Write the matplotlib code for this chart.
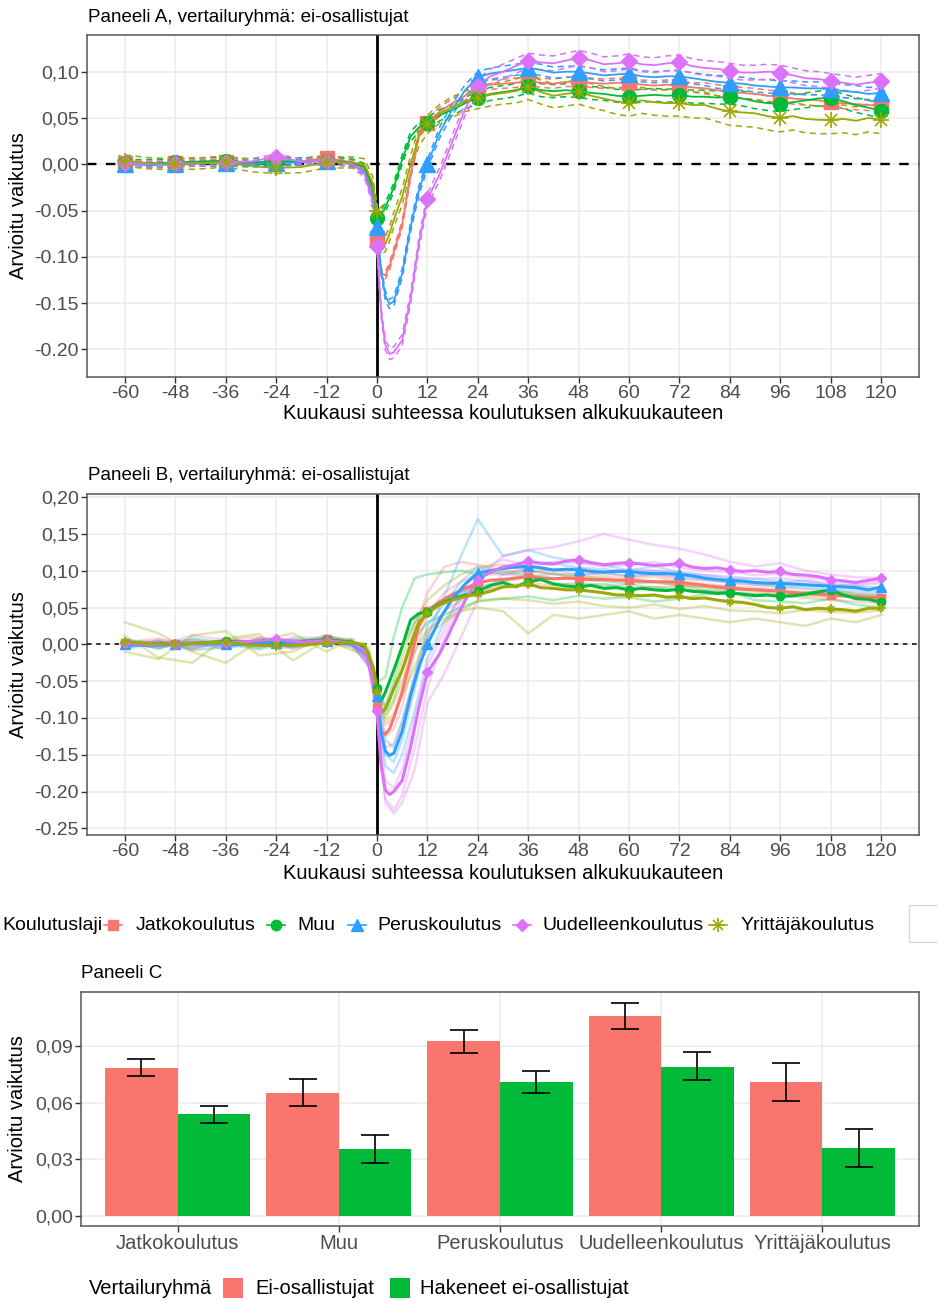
import matplotlib
matplotlib.use('Agg')
import matplotlib.pyplot as plt
from matplotlib.lines import Line2D
from matplotlib.patches import Rectangle
import numpy as np

plt.rcParams['font.family'] = ['Liberation Sans', 'DejaVu Sans']

W, H = 938, 1301

# ---- data -------------------------------------------------------------
groups = ['Jatkokoulutus', 'Muu', 'Peruskoulutus', 'Uudelleenkoulutus', 'Yrittäjäkoulutus']
colors = ['#F8766D', '#00BA38', '#2E9FFF', '#DC71FA', '#9DA800']

months = [-60, -54, -48, -42, -36, -30, -24, -18, -12, -6, -3, -1, 0,
          1, 2, 3, 4, 6, 8, 10, 12, 15, 18, 21, 24,
          27, 30, 33, 36, 39, 42, 45, 48, 51, 54, 57, 60, 63, 66, 69, 72,
          75, 78, 81, 84, 87, 90, 93, 96, 99, 102, 105, 108, 111, 114, 117, 120]

# panel A: estimates and half-widths of the confidence band
a_jatko = [0.001, 0.000, 0.001, 0.002, 0.003, 0.001, 0.002, 0.003, 0.007, 0.002, -0.005, -0.030, -0.080,
           -0.117, -0.120, -0.110, -0.095, -0.065, -0.012, 0.033, 0.045, 0.057, 0.066, 0.074, 0.083,
           0.086, 0.087, 0.088, 0.090, 0.088, 0.087, 0.089, 0.089, 0.088, 0.087, 0.088, 0.088, 0.086, 0.085, 0.086, 0.085,
           0.083, 0.082, 0.080, 0.078, 0.077, 0.076, 0.074, 0.073, 0.071, 0.070, 0.069, 0.067, 0.066, 0.065, 0.064, 0.063]
a_muu = [0.001, 0.001, 0.002, 0.003, 0.004, 0.002, 0.003, 0.003, 0.004, 0.002, -0.003, -0.025, -0.058,
         -0.055, -0.046, -0.036, -0.025, 0.005, 0.030, 0.040, 0.045, 0.053, 0.059, 0.066, 0.072,
         0.076, 0.078, 0.080, 0.084, 0.080, 0.079, 0.080, 0.079, 0.077, 0.076, 0.074, 0.073, 0.074, 0.075, 0.074, 0.075,
         0.073, 0.073, 0.072, 0.073, 0.071, 0.068, 0.066, 0.065, 0.067, 0.069, 0.071, 0.072, 0.068, 0.064, 0.061, 0.058]
a_perus = [0.000, -0.001, 0.000, 0.001, 0.001, 0.000, 0.001, 0.002, 0.004, 0.000, -0.008, -0.035, -0.068,
           -0.115, -0.142, -0.151, -0.148, -0.118, -0.068, -0.028, 0.000, 0.035, 0.060, 0.080, 0.094,
           0.098, 0.100, 0.102, 0.104, 0.102, 0.099, 0.100, 0.100, 0.098, 0.096, 0.097, 0.098, 0.095, 0.094, 0.095, 0.095,
           0.093, 0.091, 0.089, 0.088, 0.087, 0.085, 0.084, 0.083, 0.083, 0.082, 0.082, 0.081, 0.079, 0.078, 0.076, 0.077]
a_uudel = [0.001, 0.000, 0.001, 0.001, 0.002, 0.003, 0.008, 0.003, 0.004, 0.000, -0.010, -0.040, -0.088,
           -0.160, -0.195, -0.205, -0.203, -0.190, -0.145, -0.085, -0.038, -0.010, 0.025, 0.060, 0.085,
           0.095, 0.100, 0.106, 0.112, 0.110, 0.109, 0.112, 0.115, 0.112, 0.108, 0.109, 0.111, 0.108, 0.107, 0.109, 0.110,
           0.106, 0.104, 0.103, 0.101, 0.099, 0.099, 0.100, 0.099, 0.096, 0.093, 0.092, 0.090, 0.088, 0.086, 0.088, 0.090]
a_yritt = [0.004, 0.001, 0.000, 0.001, 0.003, -0.002, -0.004, -0.003, 0.002, 0.002, 0.000, -0.020, -0.050,
           -0.090, -0.086, -0.075, -0.060, -0.035, 0.000, 0.030, 0.043, 0.055, 0.062, 0.068, 0.072,
           0.075, 0.077, 0.079, 0.083, 0.078, 0.074, 0.076, 0.078, 0.074, 0.071, 0.068, 0.066, 0.069, 0.067, 0.066, 0.066,
           0.064, 0.064, 0.060, 0.057, 0.056, 0.055, 0.052, 0.050, 0.052, 0.049, 0.048, 0.048, 0.049, 0.047, 0.050, 0.048]

hw_jatko = [0.003, 0.003, 0.003, 0.003, 0.003, 0.003, 0.003, 0.003, 0.003, 0.003, 0.003, 0.004, 0.004,
            0.004, 0.004, 0.004, 0.004, 0.004, 0.004, 0.004, 0.004, 0.005, 0.005, 0.005, 0.005,
            0.005, 0.005, 0.005, 0.005, 0.005, 0.005, 0.005, 0.005, 0.005, 0.005, 0.005, 0.005, 0.005, 0.005, 0.005, 0.005,
            0.005, 0.006, 0.006, 0.006, 0.006, 0.006, 0.006, 0.006, 0.006, 0.006, 0.006, 0.006, 0.006, 0.006, 0.006, 0.006]
hw_muu = [0.004, 0.004, 0.004, 0.004, 0.004, 0.004, 0.004, 0.004, 0.004, 0.004, 0.004, 0.004, 0.005,
          0.005, 0.005, 0.005, 0.005, 0.005, 0.005, 0.005, 0.006, 0.006, 0.006, 0.006, 0.007,
          0.007, 0.007, 0.007, 0.007, 0.007, 0.007, 0.007, 0.007, 0.007, 0.007, 0.007, 0.007, 0.007, 0.007, 0.007, 0.007,
          0.007, 0.007, 0.007, 0.008, 0.008, 0.008, 0.008, 0.008, 0.008, 0.008, 0.008, 0.008, 0.008, 0.008, 0.008, 0.008]
hw_perus = [0.003, 0.003, 0.003, 0.003, 0.003, 0.003, 0.003, 0.003, 0.003, 0.003, 0.003, 0.004, 0.004,
            0.004, 0.005, 0.005, 0.005, 0.005, 0.005, 0.005, 0.005, 0.006, 0.006, 0.006, 0.006,
            0.006, 0.006, 0.006, 0.006, 0.006, 0.006, 0.006, 0.006, 0.006, 0.006, 0.006, 0.006, 0.006, 0.006, 0.006, 0.006,
            0.006, 0.006, 0.007, 0.007, 0.007, 0.007, 0.007, 0.007, 0.007, 0.007, 0.007, 0.007, 0.007, 0.007, 0.007, 0.007]
hw_uudel = [0.003, 0.003, 0.003, 0.003, 0.003, 0.003, 0.003, 0.003, 0.003, 0.003, 0.004, 0.004, 0.004,
            0.005, 0.006, 0.006, 0.006, 0.006, 0.006, 0.006, 0.006, 0.007, 0.007, 0.007, 0.007,
            0.008, 0.008, 0.008, 0.008, 0.008, 0.008, 0.008, 0.008, 0.008, 0.008, 0.008, 0.008, 0.008, 0.008, 0.008, 0.008,
            0.008, 0.008, 0.008, 0.008, 0.008, 0.008, 0.008, 0.008, 0.008, 0.008, 0.008, 0.008, 0.008, 0.008, 0.008, 0.008]
hw_yritt = [0.006, 0.006, 0.006, 0.006, 0.006, 0.006, 0.006, 0.006, 0.006, 0.006, 0.006, 0.007, 0.008,
            0.008, 0.008, 0.008, 0.008, 0.009, 0.009, 0.010, 0.010, 0.010, 0.011, 0.011, 0.012,
            0.012, 0.012, 0.013, 0.013, 0.013, 0.013, 0.013, 0.013, 0.013, 0.013, 0.014, 0.014, 0.014, 0.014, 0.014, 0.014,
            0.014, 0.014, 0.014, 0.015, 0.015, 0.015, 0.015, 0.015, 0.015, 0.015, 0.015, 0.015, 0.015, 0.015, 0.015, 0.015]

# panel B: main estimates
b_jatko = [0.002, 0.000, 0.001, 0.002, 0.002, 0.001, 0.003, 0.002, 0.007, 0.002, -0.006, -0.035, -0.085,
           -0.120, -0.122, -0.115, -0.100, -0.065, -0.020, 0.025, 0.045, 0.058, 0.068, 0.076, 0.083,
           0.087, 0.088, 0.090, 0.092, 0.090, 0.089, 0.090, 0.089, 0.088, 0.088, 0.087, 0.087, 0.086, 0.085, 0.085, 0.084,
           0.082, 0.080, 0.078, 0.077, 0.075, 0.074, 0.073, 0.072, 0.070, 0.069, 0.068, 0.067, 0.066, 0.065, 0.064, 0.063]
b_muu = [0.002, 0.001, 0.000, 0.002, 0.004, 0.003, 0.002, 0.004, 0.006, 0.003, -0.005, -0.030, -0.060,
         -0.077, -0.065, -0.050, -0.035, -0.003, 0.033, 0.042, 0.044, 0.055, 0.062, 0.067, 0.072,
         0.080, 0.084, 0.078, 0.085, 0.088, 0.082, 0.079, 0.078, 0.080, 0.076, 0.077, 0.074, 0.076, 0.074, 0.073, 0.075,
         0.072, 0.071, 0.069, 0.070, 0.068, 0.066, 0.067, 0.065, 0.066, 0.068, 0.071, 0.074, 0.067, 0.062, 0.061, 0.057]
b_perus = [0.000, -0.002, 0.000, 0.001, 0.000, 0.000, 0.002, 0.001, 0.005, 0.000, -0.010, -0.040, -0.070,
           -0.120, -0.145, -0.151, -0.148, -0.118, -0.070, -0.030, 0.000, 0.035, 0.062, 0.082, 0.097,
           0.100, 0.103, 0.105, 0.106, 0.104, 0.101, 0.102, 0.101, 0.099, 0.098, 0.099, 0.099, 0.097, 0.096, 0.096, 0.095,
           0.093, 0.090, 0.088, 0.087, 0.086, 0.084, 0.083, 0.083, 0.082, 0.081, 0.080, 0.079, 0.078, 0.077, 0.074, 0.078]
b_uudel = [0.002, -0.001, 0.001, 0.002, 0.002, 0.004, 0.007, 0.003, 0.005, 0.002, -0.008, -0.045, -0.090,
           -0.165, -0.198, -0.204, -0.200, -0.185, -0.140, -0.085, -0.038, -0.012, 0.025, 0.060, 0.088,
           0.098, 0.105, 0.108, 0.113, 0.110, 0.109, 0.113, 0.115, 0.111, 0.108, 0.110, 0.111, 0.109, 0.107, 0.108, 0.110,
           0.105, 0.103, 0.104, 0.101, 0.099, 0.100, 0.098, 0.099, 0.095, 0.094, 0.092, 0.088, 0.086, 0.084, 0.087, 0.090]
b_yritt = [0.003, 0.001, 0.000, 0.002, 0.003, -0.001, -0.002, -0.001, 0.002, 0.002, 0.000, -0.030, -0.065,
           -0.093, -0.088, -0.075, -0.060, -0.035, 0.000, 0.030, 0.042, 0.054, 0.060, 0.065, 0.068,
           0.072, 0.078, 0.079, 0.082, 0.077, 0.076, 0.074, 0.074, 0.072, 0.070, 0.067, 0.067, 0.066, 0.067, 0.064, 0.065,
           0.062, 0.063, 0.060, 0.058, 0.057, 0.054, 0.050, 0.049, 0.051, 0.047, 0.049, 0.048, 0.047, 0.045, 0.049, 0.049]

# panel B: faint individual estimates (three per group)
months_f = [-60, -52, -44, -36, -28, -20, -12, -6, -2, 0, 2, 4, 6, 9, 12, 16, 20, 24,
            30, 36, 42, 48, 54, 60, 66, 72, 78, 84, 90, 96, 102, 108, 114, 120]
f_jatko = [
    [0.006, -0.004, 0.005, -0.003, 0.006, -0.005, 0.010, 0.002, -0.015, -0.075, -0.110, -0.100, -0.060, 0.020, 0.070,
     0.105, 0.112, 0.108, 0.100, 0.098, 0.102, 0.094, 0.097, 0.092, 0.095, 0.089, 0.087, 0.084, 0.081, 0.078, 0.075, 0.072, 0.069, 0.067],
    [-0.004, 0.005, -0.006, 0.004, -0.002, 0.006, 0.002, -0.004, -0.025, -0.095, -0.140, -0.135, -0.105, -0.045, 0.015,
     0.045, 0.060, 0.072, 0.080, 0.083, 0.080, 0.084, 0.079, 0.081, 0.077, 0.079, 0.074, 0.071, 0.068, 0.066, 0.063, 0.060, 0.058, 0.056],
    [0.002, 0.008, -0.002, 0.006, 0.010, 0.000, 0.006, 0.004, -0.010, -0.085, -0.125, -0.115, -0.085, -0.010, 0.040,
     0.070, 0.085, 0.095, 0.095, 0.092, 0.096, 0.090, 0.093, 0.089, 0.092, 0.086, 0.082, 0.079, 0.077, 0.074, 0.071, 0.068, 0.065, 0.062]]
f_muu = [
    [0.004, -0.006, 0.008, 0.002, -0.005, 0.007, 0.006, 0.004, -0.010, -0.050, -0.045, 0.010, 0.050, 0.090, 0.095,
     0.098, 0.100, 0.095, 0.098, 0.094, 0.090, 0.088, 0.086, 0.082, 0.085, 0.080, 0.078, 0.074, 0.075, 0.072, 0.070, 0.074, 0.068, 0.066],
    [-0.005, 0.004, -0.003, 0.006, 0.003, -0.004, 0.002, 0.000, -0.020, -0.065, -0.085, -0.050, -0.005, 0.030, 0.048,
     0.060, 0.070, 0.078, 0.085, 0.092, 0.083, 0.080, 0.082, 0.076, 0.078, 0.074, 0.073, 0.070, 0.068, 0.066, 0.070, 0.072, 0.064, 0.060],
    [0.006, 0.002, -0.008, -0.004, 0.008, 0.002, 0.010, 0.006, -0.018, -0.070, -0.095, -0.075, -0.035, 0.008, 0.030,
     0.040, 0.050, 0.058, 0.062, 0.065, 0.060, 0.066, 0.062, 0.064, 0.058, 0.062, 0.068, 0.072, 0.060, 0.058, 0.056, 0.062, 0.054, 0.050]]
f_perus = [
    [-0.003, 0.004, -0.006, 0.003, 0.000, 0.005, 0.004, -0.003, -0.020, -0.075, -0.150, -0.160, -0.130, -0.060, 0.010,
     0.065, 0.120, 0.170, 0.120, 0.128, 0.118, 0.112, 0.108, 0.100, 0.106, 0.098, 0.094, 0.090, 0.089, 0.085, 0.086, 0.081, 0.080, 0.076],
    [0.004, -0.005, 0.003, -0.006, 0.005, -0.003, 0.008, 0.002, -0.030, -0.080, -0.165, -0.175, -0.150, -0.090, -0.020,
     0.030, 0.065, 0.090, 0.105, 0.112, 0.110, 0.104, 0.102, 0.098, 0.100, 0.096, 0.090, 0.086, 0.084, 0.082, 0.080, 0.079, 0.076, 0.073],
    [-0.006, 0.002, 0.006, 0.000, -0.007, 0.004, 0.002, 0.004, -0.015, -0.060, -0.130, -0.140, -0.105, -0.040, 0.025,
     0.055, 0.085, 0.105, 0.095, 0.100, 0.096, 0.094, 0.097, 0.093, 0.095, 0.092, 0.088, 0.084, 0.081, 0.079, 0.077, 0.075, 0.072, 0.070]]
f_uudel = [
    [0.004, -0.002, 0.012, 0.006, -0.004, 0.010, 0.008, 0.006, -0.020, -0.095, -0.210, -0.225, -0.205, -0.140, -0.060,
     0.010, 0.060, 0.090, 0.120, 0.128, 0.132, 0.140, 0.150, 0.142, 0.135, 0.130, 0.122, 0.112, 0.106, 0.110, 0.100, 0.095, 0.091, 0.090],
    [-0.004, 0.006, 0.000, -0.005, 0.008, 0.002, 0.012, 0.000, -0.030, -0.085, -0.185, -0.195, -0.170, -0.100, -0.030,
     0.020, 0.070, 0.100, 0.115, 0.108, 0.112, 0.110, 0.106, 0.108, 0.112, 0.104, 0.100, 0.098, 0.094, 0.096, 0.090, 0.087, 0.083, 0.085],
    [0.002, 0.004, -0.006, 0.008, 0.000, -0.006, 0.004, 0.003, -0.025, -0.100, -0.215, -0.230, -0.215, -0.170, -0.080,
     -0.040, 0.010, 0.060, 0.095, 0.105, 0.100, 0.104, 0.098, 0.102, 0.100, 0.097, 0.094, 0.092, 0.089, 0.090, 0.086, 0.082, 0.080, 0.083]]
f_yritt = [
    [0.030, 0.015, -0.010, -0.025, 0.005, 0.015, -0.010, 0.008, -0.010, -0.060, -0.100, -0.080, -0.050, -0.010, 0.020,
     0.035, 0.045, 0.050, 0.045, 0.015, 0.040, 0.035, 0.040, 0.045, 0.035, 0.040, 0.035, 0.030, 0.035, 0.030, 0.025, 0.035, 0.030, 0.040],
    [-0.010, -0.020, 0.012, 0.018, -0.015, -0.010, 0.012, 0.004, -0.005, -0.050, -0.085, -0.060, -0.020, 0.030, 0.060,
     0.080, 0.095, 0.105, 0.108, 0.100, 0.095, 0.092, 0.090, 0.086, 0.084, 0.080, 0.078, 0.075, 0.072, 0.068, 0.066, 0.064, 0.065, 0.062],
    [0.012, -0.018, -0.025, 0.008, 0.014, -0.022, 0.006, -0.008, -0.015, -0.070, -0.105, -0.095, -0.070, -0.030, 0.010,
     0.030, 0.045, 0.060, 0.062, 0.060, 0.055, 0.058, 0.052, 0.050, 0.054, 0.048, 0.052, 0.046, 0.045, 0.042, 0.047, 0.044, 0.043, 0.046]]

# panel C: average effect with 95 % interval
c_groups = ['Jatkokoulutus', 'Muu', 'Peruskoulutus', 'Uudelleenkoulutus', 'Yrittäjäkoulutus']
c_ei = [0.0784, 0.0653, 0.0925, 0.1057, 0.0710]
c_ei_lo = [0.0740, 0.0580, 0.0865, 0.0990, 0.0610]
c_ei_hi = [0.0830, 0.0725, 0.0985, 0.1130, 0.0810]
c_hak = [0.0540, 0.0356, 0.0708, 0.0790, 0.0360]
c_hak_lo = [0.0495, 0.0280, 0.0650, 0.0720, 0.0260]
c_hak_hi = [0.0585, 0.0430, 0.0770, 0.0870, 0.0460]

x_ticks = [-60, -48, -36, -24, -12, 0, 12, 24, 36, 48, 60, 72, 84, 96, 108, 120]
ya_ticks = [0.10, 0.05, 0.00, -0.05, -0.10, -0.15, -0.20]
ya_labels = ['0,10', '0,05', '0,00', '-0.05', '-0.10', '-0.15', '-0.20']
yb_ticks = [0.20, 0.15, 0.10, 0.05, 0.00, -0.05, -0.10, -0.15, -0.20, -0.25]
yb_labels = ['0,20', '0,15', '0,10', '0,05', '0,00', '-0.05', '-0.10', '-0.15', '-0.20', '-0.25']
yc_ticks = [0.00, 0.03, 0.06, 0.09]
yc_labels = ['0,00', '0,03', '0,06', '0,09']

a_est = [a_jatko, a_muu, a_perus, a_uudel, a_yritt]
a_hw = [hw_jatko, hw_muu, hw_perus, hw_uudel, hw_yritt]
b_est = [b_jatko, b_muu, b_perus, b_uudel, b_yritt]
b_faint = [f_jatko, f_muu, f_perus, f_uudel, f_yritt]
markers = ['s', 'o', '^', 'D', 'asterisk']
msize_a = [9.5, 10, 12, 8, 11]

TICK = 14
LAB = 14.5


def fx(px):
    return px / W


def fy(px):
    return 1 - px / H


def draw_marker(ax, x, y, m, color, size):
    if m == 'asterisk':
        ax.plot(x, y, ls='none', marker='+', ms=size, mew=1.2, color=color, zorder=5)
        ax.plot(x, y, ls='none', marker='x', ms=size * 0.75, mew=1.2, color=color, zorder=5)
    else:
        ax.plot(x, y, ls='none', marker=m, ms=size, mec=color, mfc=color, color=color, zorder=5)


def style(ax, yticks, ylabels):
    ax.set_facecolor('white')
    ax.grid(True, color='#EBEBEB', lw=1.1)
    ax.set_axisbelow(True)
    for s in ax.spines.values():
        s.set_color('#555555')
        s.set_linewidth(1.1)
    ax.set_yticks(yticks)
    ax.set_yticklabels(ylabels)
    ax.tick_params(labelsize=TICK, labelcolor='#4D4D4D', color='#333333', length=4, width=1, pad=2)


fig = plt.figure(figsize=(W / 100, H / 100), dpi=100)

mpos = np.array(months)
sel = np.isin(mpos, x_ticks)

# ---- panel A ----------------------------------------------------------
axA = fig.add_axes([fx(87), fy(377), fx(919 - 87), (377 - 35) / H])
style(axA, ya_ticks, ya_labels)
axA.axhline(0, color='black', lw=1.7, ls=(0, (4, 4)), zorder=1)
axA.axvline(0, color='black', lw=2, zorder=1)
for est, hw, col in zip(a_est, a_hw, colors):
    est = np.array(est)
    hw = np.array(hw)
    axA.plot(mpos, est + hw, color=col, lw=1.1, ls=(0, (4, 3)), zorder=2)
    axA.plot(mpos, est - hw, color=col, lw=1.1, ls=(0, (4, 3)), zorder=2)
    axA.plot(mpos, est, color=col, lw=1.3, zorder=3)
for est, col, m, ms in zip(a_est, colors, markers, msize_a):
    est = np.array(est)
    draw_marker(axA, mpos[sel], est[sel], m, col, ms)
axA.set_xlim(-69, 129)
axA.set_ylim(-0.2297, 0.1396)
axA.set_xticks(x_ticks)
axA.set_xticklabels([str(t) for t in x_ticks])
axA.set_xlabel('Kuukausi suhteessa koulutuksen alkukuukauteen', fontsize=LAB)
axA.xaxis.set_label_coords(0.5, -0.108)
axA.xaxis.label.set_va('center')
axA.set_ylabel('Arvioitu vaikutus', fontsize=LAB)
axA.yaxis.set_label_coords((18 - 87) / 832, 0.5)
axA.yaxis.label.set_va('center')
fig.text(fx(88), fy(17), 'Paneeli A, vertailuryhmä: ei-osallistujat', fontsize=13.5, va='center', ha='left')

# ---- panel B ----------------------------------------------------------
axB = fig.add_axes([fx(87), fy(835), fx(919 - 87), (835 - 494) / H])
style(axB, yb_ticks, yb_labels)
axB.axvline(0, color='black', lw=2, zorder=1)
for lines, col in zip(b_faint, colors):
    for ln in lines:
        axB.plot(months_f, ln, color=col, lw=1.8, alpha=0.3, zorder=2)
axB.axhline(0, color='black', lw=1.1, ls=(0, (3, 3)), zorder=3)
for est, col in zip(b_est, colors):
    axB.plot(mpos, est, color=col, lw=2.2, zorder=4)
for est, col, m, ms in zip(b_est, colors, markers, msize_a):
    est = np.array(est)
    draw_marker(axB, mpos[sel], est[sel], m, col, ms * 0.6)
axB.set_xlim(-69, 129)
axB.set_ylim(-0.259, 0.2042)
axB.set_xticks(x_ticks)
axB.set_xticklabels([str(t) for t in x_ticks])
axB.set_xlabel('Kuukausi suhteessa koulutuksen alkukuukauteen', fontsize=LAB)
axB.xaxis.set_label_coords(0.5, -0.114)
axB.xaxis.label.set_va('center')
axB.set_ylabel('Arvioitu vaikutus', fontsize=LAB)
axB.yaxis.set_label_coords((18 - 87) / 832, 0.5)
axB.yaxis.label.set_va('center')
fig.text(fx(88), fy(476), 'Paneeli B, vertailuryhmä: ei-osallistujat', fontsize=13.5, va='center', ha='left')

# ---- shared legend (Koulutuslaji) -------------------------------------
ly = fy(925)
fig.text(fx(2), ly, 'Koulutuslaji', fontsize=14, ha='left', va='center')
leg_mx = [113, 276, 357, 522, 718]
leg_tx = [136, 297, 377, 542, 741]
for g, col, m, ms, mx, tx in zip(groups, colors, markers, msize_a, leg_mx, leg_tx):
    fig.add_artist(Line2D([fx(mx - 9), fx(mx + 9)], [ly, ly], color=col, lw=1.2, transform=fig.transFigure))
    if m == 'asterisk':
        fig.add_artist(Line2D([fx(mx)], [ly], marker='+', ms=ms * 0.9, mew=1.2, color=col, ls='none',
                              transform=fig.transFigure))
        fig.add_artist(Line2D([fx(mx)], [ly], marker='x', ms=ms * 0.65, mew=1.2, color=col, ls='none',
                              transform=fig.transFigure))
    else:
        fig.add_artist(Line2D([fx(mx)], [ly], marker=m, ms=ms * 0.75, color=col, ls='none',
                              transform=fig.transFigure))
    fig.text(fx(tx), ly, g, fontsize=14, ha='left', va='center')
fig.add_artist(Rectangle((fx(909), fy(942)), fx(40), (942 - 905) / H, transform=fig.transFigure,
                         fill=False, edgecolor='#D9D9D9', lw=1))

# ---- panel C ----------------------------------------------------------
axC = fig.add_axes([fx(81), fy(1226), fx(919 - 81), (1226 - 992) / H])
style(axC, yc_ticks, yc_labels)
xc = np.arange(len(c_groups))
bw = 0.45
ei = np.array(c_ei)
hak = np.array(c_hak)
axC.bar(xc - bw / 2, ei, width=bw, color='#F8766D', zorder=2)
axC.bar(xc + bw / 2, hak, width=bw, color='#00BA38', zorder=2)
axC.errorbar(xc - bw / 2, ei, yerr=[ei - np.array(c_ei_lo), np.array(c_ei_hi) - ei], fmt='none',
             ecolor='black', elinewidth=1.2, capsize=10, capthick=1.2, zorder=3)
axC.errorbar(xc + bw / 2, hak, yerr=[hak - np.array(c_hak_lo), np.array(c_hak_hi) - hak], fmt='none',
             ecolor='black', elinewidth=1.2, capsize=10, capthick=1.2, zorder=3)
axC.set_xlim(-0.6, 4.6)
axC.set_ylim(-0.0053, 0.1186)
axC.set_xticks(xc)
axC.set_xticklabels(c_groups)
axC.tick_params(axis='x', labelsize=14.5)
axC.set_ylabel('Arvioitu vaikutus', fontsize=LAB)
axC.yaxis.set_label_coords((18 - 81) / 838, 0.5)
axC.yaxis.label.set_va('center')
fig.text(fx(81), fy(974), 'Paneeli C', fontsize=13.5, va='center', ha='left')

# panel C legend
cy = fy(1288)
fig.text(fx(89), cy, 'Vertailuryhmä', fontsize=14.5, ha='left', va='center')
fig.add_artist(Rectangle((fx(223), fy(1298)), fx(20), 20 / H, transform=fig.transFigure,
                         facecolor='#F8766D', edgecolor='none'))
fig.text(fx(255), cy, 'Ei-osallistujat', fontsize=14.5, ha='left', va='center')
fig.add_artist(Rectangle((fx(390), fy(1298)), fx(20), 20 / H, transform=fig.transFigure,
                         facecolor='#00BA38', edgecolor='none'))
fig.text(fx(420), cy, 'Hakeneet ei-osallistujat', fontsize=14.5, ha='left', va='center')

fig.savefig('out.png', dpi=100)
